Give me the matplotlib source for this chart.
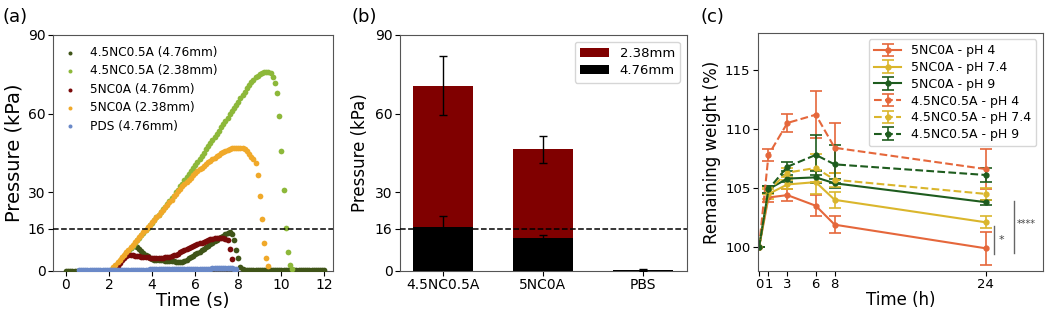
"""
Three-panel figure: (a) pressure vs time traces, (b) peak pressure bars,
(c) remaining weight over time at different pH.
"""
import numpy as np
import matplotlib
matplotlib.use("Agg")
import matplotlib.pyplot as plt

# ── Panel (a): pressure traces, sampled every 0.1 s ───────────────────────────
SAMPLE_DT = 0.1

# 4.5NC0.5A (4.76mm), starts at t = 0.0 s
t0_nc45_476 = 0.0
p_nc45_476 = [
    0.0, 0.0, 0.0, 0.0, 0.0, 0.0, 0.0, 0.0, 0.0, 0.0,
    0.0, 0.0, 0.0, 0.0, 0.0, 0.0, 0.0, 0.0, 0.0, 0.0,
    0.0, 0.1, 0.8, 1.8, 2.8, 3.8, 4.8, 5.8, 6.8, 7.7,
    8.6, 9.3, 9.4, 9.0, 8.3, 7.5, 6.8, 6.1, 5.5, 5.0,
    4.6, 4.3, 4.2, 4.1, 4.0, 4.0, 3.9, 3.9, 3.8, 3.7,
    3.6, 3.5, 3.4, 3.4, 3.5, 3.8, 4.3, 4.8, 5.3, 5.8,
    6.3, 6.8, 7.3, 7.8, 8.4, 9.0, 9.6, 10.2, 10.8, 11.4,
    11.9, 12.4, 12.9, 13.4, 13.9, 14.4, 14.8, 14.0, 11.6, 8.1,
    4.7, 1.5, 0.6, 0.5, 0.5, 0.5, 0.4, 0.5, 0.5, 0.4,
    0.5, 0.5, 0.4, 0.5, 0.5, 0.4, 0.5, 0.5, 0.5, 0.4,
    0.5, 0.4, 0.5, 0.5, 0.4, 0.5, 0.5, 0.4, 0.5, 0.5,
    0.4, 0.5, 0.5, 0.4, 0.5, 0.5, 0.4, 0.5, 0.5, 0.4,
    0.5,
]

# 4.5NC0.5A (2.38mm), starts at t = 2.0 s
t0_nc45_238 = 2.0
p_nc45_238 = [
    0.0, 0.2, 1.0, 2.0, 2.9, 3.9, 4.8, 5.8, 6.8, 7.7,
    8.7, 9.6, 10.6, 11.6, 12.5, 13.5, 14.5, 15.5, 16.4, 17.4,
    18.4, 19.4, 20.4, 21.4, 22.4, 23.4, 24.4, 25.5, 26.5, 27.6,
    28.7, 29.9, 31.0, 32.2, 33.3, 34.5, 35.7, 36.8, 38.0, 39.2,
    40.4, 41.6, 42.7, 43.9, 45.1, 46.3, 47.5, 48.7, 49.9, 51.1,
    52.3, 53.5, 54.7, 56.0, 57.2, 58.4, 59.7, 60.9, 62.1, 63.4,
    64.6, 65.9, 67.1, 68.4, 69.6, 70.8, 71.9, 72.9, 73.8, 74.5,
    75.1, 75.5, 75.8, 76.0, 75.9, 75.4, 74.0, 71.7, 67.9, 59.0,
    45.8, 31.0, 16.3, 7.0, 2.1, 0.8,
]

# 5NC0A (4.76mm), starts at t = 2.0 s
t0_nc5_476 = 2.0
p_nc5_476 = [
    0.0, 0.0, 0.3, 1.0, 2.0, 3.0, 4.0, 5.0, 5.7, 6.0,
    6.0, 5.9, 5.8, 5.6, 5.5, 5.4, 5.3, 5.2, 5.1, 5.0,
    5.0, 4.9, 4.9, 4.9, 4.9, 5.0, 5.1, 5.2, 5.4, 5.6,
    5.9, 6.2, 6.6, 7.0, 7.4, 7.8, 8.2, 8.6, 9.0, 9.4,
    9.8, 10.2, 10.5, 10.8, 11.1, 11.4, 11.7, 12.0, 12.2, 12.4,
    12.5, 12.5, 12.5, 12.4, 12.2, 11.8, 8.5, 4.4,
]

# 5NC0A (2.38mm), starts at t = 2.0 s
t0_nc5_238 = 2.0
p_nc5_238 = [
    0.0, 0.4, 1.3, 2.3, 3.3, 4.2, 5.2, 6.1, 7.1, 8.0,
    9.0, 10.0, 10.9, 11.9, 12.8, 13.8, 14.7, 15.7, 16.6, 17.6,
    18.5, 19.5, 20.4, 21.4, 22.3, 23.3, 24.2, 25.2, 26.1, 27.1,
    28.4, 29.4, 30.4, 31.3, 32.2, 33.1, 34.0, 34.8, 35.6, 36.4,
    37.2, 38.0, 38.7, 39.4, 40.1, 40.8, 41.4, 42.0, 42.6, 43.2,
    43.8, 44.3, 44.8, 45.3, 45.7, 46.1, 46.4, 46.7, 46.9, 47.0,
    47.0, 46.9, 46.7, 46.3, 45.6, 44.6, 43.6, 42.5, 41.3, 36.7,
    28.7, 19.8, 10.5, 5.0, 1.8,
]

# PDS (4.76mm), starts at t = 0.6 s
t0_pds = 0.6
p_pds = [
    0.3, 0.3, 0.3, 0.3, 0.3, 0.3, 0.3, 0.3, 0.3, 0.3,
    0.3, 0.3, 0.3, 0.3, 0.3, 0.3, 0.3, 0.4, 0.4, 0.4,
    0.4, 0.4, 0.4, 0.4, 0.5, 0.5, 0.5, 0.5, 0.5, 0.5,
    0.5, 0.5, 0.5, 0.6, 0.6, 0.6, 0.6, 0.6, 0.6, 0.6,
    0.6, 0.6, 0.7, 0.7, 0.7, 0.7, 0.7, 0.7, 0.7, 0.7,
    0.7, 0.7, 0.8, 0.8, 0.8, 0.8, 0.8, 0.8, 0.8, 0.8,
    0.8, 0.8, 0.9, 0.9, 0.9, 0.9, 0.9, 0.9, 0.9, 0.9,
    0.9, 0.9, 0.8, 0.6,
]

series_a = [
    ("4.5NC0.5A (4.76mm)", t0_nc45_476, p_nc45_476, "#3F5418"),
    ("4.5NC0.5A (2.38mm)", t0_nc45_238, p_nc45_238, "#8DB83A"),
    ("5NC0A (4.76mm)",     t0_nc5_476,  p_nc5_476,  "#7A0A0A"),
    ("5NC0A (2.38mm)",     t0_nc5_238,  p_nc5_238,  "#F0A92A"),
    ("PDS (4.76mm)",       t0_pds,      p_pds,      "#6A89C8"),
]

# ── Panel (b): peak pressure per material ─────────────────────────────────────
materials  = ["4.5NC0.5A", "5NC0A", "PBS"]
peak_238   = [70.7, 46.4, 0.4]
err_238    = [11.4, 5.2, 0.3]
peak_476   = [16.8, 12.6, 0.2]
err_476    = [4.3, 1.2, 0.1]

THRESHOLD = 16

# ── Panel (c): remaining weight ───────────────────────────────────────────────
hours = [0, 1, 3, 6, 8, 24]
w_5_ph4    = [100, 104.2, 104.4, 103.5, 101.9, 99.9]
e_5_ph4    = [0, 0.4, 0.5, 0.9, 0.7, 1.4]
w_5_ph74   = [100, 104.5, 105.3, 105.5, 104.0, 102.1]
e_5_ph74   = [0, 0.4, 0.4, 1.0, 0.7, 0.5]
w_5_ph9    = [100, 104.9, 105.8, 105.9, 105.4, 103.8]
e_5_ph9    = [0, 0.3, 0.3, 0.5, 0.4, 0.2]
w_45_ph4   = [100, 107.8, 110.5, 111.2, 108.4, 106.6]
e_45_ph4   = [0, 0.5, 0.8, 2.0, 2.1, 1.7]
w_45_ph74  = [100, 104.8, 106.3, 106.7, 105.7, 104.5]
e_45_ph74  = [0, 0.3, 0.4, 1.2, 0.6, 0.5]
w_45_ph9   = [100, 104.9, 106.8, 107.8, 107.0, 106.1]
e_45_ph9   = [0, 0.3, 0.4, 1.7, 1.6, 0.6]

ORANGE = "#E5673B"
YELLOW = "#DAB62C"
GREEN  = "#1E5C1E"

series_c = [
    ("5NC0A - pH 4",       w_5_ph4,   e_5_ph4,   ORANGE, "-"),
    ("5NC0A - pH 7.4",     w_5_ph74,  e_5_ph74,  YELLOW, "-"),
    ("5NC0A - pH 9",       w_5_ph9,   e_5_ph9,   GREEN,  "-"),
    ("4.5NC0.5A - pH 4",   w_45_ph4,  e_45_ph4,  ORANGE, "--"),
    ("4.5NC0.5A - pH 7.4", w_45_ph74, e_45_ph74, YELLOW, "--"),
    ("4.5NC0.5A - pH 9",   w_45_ph9,  e_45_ph9,  GREEN,  "--"),
]

SPINE = "#555555"

# ── Figure ────────────────────────────────────────────────────────────────────
fig = plt.figure(figsize=(10.5, 3.12), dpi=100)
ax_a = fig.add_axes([0.0505, 0.132, 0.2667, 0.756])
ax_b = fig.add_axes([0.381, 0.132, 0.273, 0.756])
ax_c = fig.add_axes([0.722, 0.132, 0.271, 0.762])

for ax in (ax_a, ax_b, ax_c):
    for sp in ax.spines.values():
        sp.set_edgecolor(SPINE)
        sp.set_linewidth(0.8)
    ax.tick_params(pad=2)

# (a)
for label, t0, vals, col in series_a:
    t = t0 + SAMPLE_DT * np.arange(len(vals))
    ax_a.scatter(t, vals, s=17, color=col, label=label, linewidths=0, zorder=3)
ax_a.axhline(THRESHOLD, color="black", ls="--", lw=1.1, zorder=4)
ax_a.set_xlim(-0.6, 12.4)
ax_a.set_ylim(0, 90)
ax_a.set_xticks([0, 2, 4, 6, 8, 10, 12])
ax_a.set_yticks([0, 16, 30, 60, 90])
ax_a.tick_params(labelsize=10)
ax_a.set_xlabel("Time (s)", fontsize=13, labelpad=0)
ax_a.set_ylabel("Pressure (kPa)", fontsize=14, labelpad=3)
ax_a.legend(loc="upper left", frameon=False, fontsize=8.7, scatterpoints=1,
            markerscale=0.7, bbox_to_anchor=(-0.02, 1.0), handletextpad=0.6,
            labelspacing=0.45)

# (b)
x = np.arange(len(materials))
ebar = dict(ecolor="black", elinewidth=1.0, capthick=1.0)
ax_b.bar(x, peak_238, 0.6, color="#800000", yerr=err_238, capsize=3,
         error_kw=ebar, label="2.38mm", zorder=2)
ax_b.bar(x, peak_476, 0.6, color="black", yerr=err_476, capsize=3,
         error_kw=ebar, label="4.76mm", zorder=3)
ax_b.axhline(THRESHOLD, color="black", ls="--", lw=1.1, zorder=4)
ax_b.set_xticks(x)
ax_b.set_xticklabels(materials)
ax_b.set_xlim(-0.43, 2.44)
ax_b.set_ylim(0, 90)
ax_b.set_yticks([0, 16, 30, 60, 90])
ax_b.tick_params(labelsize=10)
ax_b.set_ylabel("Pressure (kPa)", fontsize=12, labelpad=4)
ax_b.legend(loc="upper right", fontsize=9.5, handlelength=2.2,
            labelspacing=0.35, edgecolor="#cccccc", fancybox=True)

# (c)
for label, w, e, col, ls in series_c:
    ax_c.errorbar(hours, w, yerr=e, color=col, ls=ls, lw=1.5, marker="o",
                  ms=3.5, capsize=4, elinewidth=1.2, capthick=1.2, label=label)
# significance brackets
ax_c.plot([24.9, 24.9], [99.4, 101.8], color="#666666", lw=1)
ax_c.text(25.3, 100.6, "*", fontsize=8, color="#444444", va="center")
ax_c.plot([27.0, 27.0], [99.5, 103.9], color="#666666", lw=1)
ax_c.text(27.3, 101.95, "****", fontsize=7, color="#444444", va="center")
ax_c.set_xlim(-0.1, 30)
ax_c.set_ylim(98, 118.1)
ax_c.set_xticks(hours)
ax_c.set_yticks([100, 105, 110, 115])
ax_c.tick_params(labelsize=9.5)
ax_c.set_xlabel("Time (h)", fontsize=12, labelpad=0)
ax_c.set_ylabel("Remaining weight (%)", fontsize=12, labelpad=3)
ax_c.legend(loc="upper right", fontsize=9, labelspacing=0.3,
            edgecolor="#cccccc", handlelength=2.2)

# panel letters
fig.text(0.002, 0.945, "(a)", fontsize=13, va="center")
fig.text(0.335, 0.945, "(b)", fontsize=13, va="center")
fig.text(0.667, 0.945, "(c)", fontsize=13, va="center")

fig.savefig("out.png", dpi=100)
plt.close(fig)
